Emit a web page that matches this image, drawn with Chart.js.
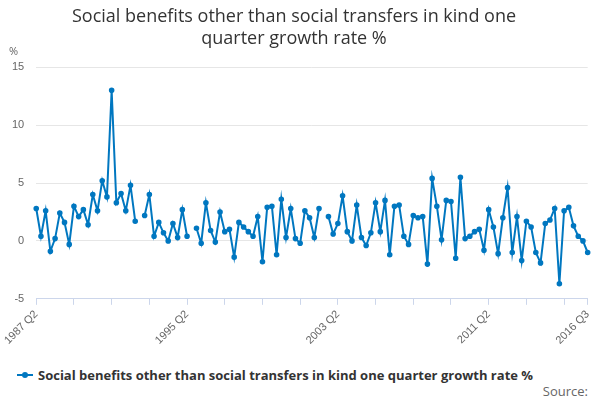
<!DOCTYPE html>
<html><head><meta charset="utf-8">
<script src="https://cdn.jsdelivr.net/npm/chart.js@4/dist/chart.umd.min.js"></script>
<style>
body{margin:0;width:600px;height:400px;overflow:hidden;background:#fff;font-family:"Open Sans",sans-serif;position:relative}
#wrap{position:absolute;left:0;top:0;width:600px;height:350px}
#leg{position:absolute;left:17px;top:366px;font-size:13px;font-weight:bold;color:#333;display:flex;align-items:center}
#leg .ln{display:inline-block;width:16px;height:2px;background:#0077c0;position:relative;margin-right:5px}
#leg .ln:after{content:"";position:absolute;left:5px;top:-2px;width:6px;height:6px;border-radius:3px;background:#0077c0}
#src{position:absolute;right:12px;top:382px;font-size:13px;color:#666}
</style></head><body>
<div id="wrap"><canvas id="c"></canvas></div>
<div id="leg"><span class="ln"></span>Social benefits other than social transfers in kind one quarter growth rate %</div>
<div id="src">Source:</div>
<script>
const values=[2.8,0.4,2.6,-0.9,0.2,2.4,1.6,-0.3,3.0,2.1,2.7,1.4,4.0,2.6,5.2,3.8,13.0,3.3,4.1,2.6,4.8,1.7,null,
2.2,4.0,0.4,1.6,0.7,0.0,1.5,0.3,2.7,0.4,null,1.1,-0.2,3.3,0.9,-0.1,2.5,0.8,1.0,-1.4,1.6,1.2,0.8,0.4,2.1,-1.8,2.9,3.0,-1.2,3.6,0.3,2.8,0.2,-0.2,2.6,2.0,0.3,2.8,null,
2.1,0.6,1.5,3.9,0.8,0.0,3.1,0.3,-0.4,0.7,3.3,0.8,3.5,-1.2,3.0,3.1,0.4,-0.3,2.2,2.0,2.1,-2.0,5.4,3.0,0.1,3.5,3.4,-1.5,5.5,0.2,0.4,0.8,1.0,-0.8,2.7,1.2,-1.1,2.0,4.6,-1.0,2.1,-1.7,1.7,1.2,-1.0,-1.9,1.5,1.8,2.8,-3.7,2.6,2.9,1.3,0.4,0.0,-1.0];
const categories=[];
for(let i=0;i<values.length;i++){const q=1+i;const y=1987+Math.floor(q/4);categories.push(y+' Q'+(q%4+1));}
const yTicks=[-5,0,5,10,15];
const last=values.length-1;
new Chart(document.getElementById('c'),{type:'line',
data:{labels:categories,datasets:[{label:'s',data:values,borderColor:'#0077c0',backgroundColor:'#0077c0',borderWidth:2,pointRadius:1.8,pointHoverRadius:1.8,tension:0,spanGaps:false}]},
options:{responsive:true,maintainAspectRatio:false,animation:false,
layout:{padding:{left:0,right:12,top:0,bottom:0}},
plugins:{legend:{display:false},tooltip:{enabled:false},
title:{display:true,text:['Social benefits other than social transfers in kind one','quarter growth rate %'],font:{size:18,family:'"Open Sans",sans-serif',weight:'500'},color:'#333',padding:{top:6,bottom:18},lineHeight:1.3}},
scales:{
x:{grid:{drawOnChartArea:false,drawTicks:true,tickLength:6,color:(c)=>(c.index%8===0||c.index===last)?'#ccd6eb':'rgba(0,0,0,0)'},border:{color:'#ccd6eb'},
 ticks:{autoSkip:false,maxRotation:45,minRotation:45,color:'#666',font:{size:11},callback:(v,i)=>(i%32===0||i===last)?categories[i]:''}},
y:{min:-5,max:15,afterBuildTicks:(s)=>{s.ticks=yTicks.map(v=>({value:v}));},grid:{color:'#e6e6e6',drawTicks:false},border:{display:false},
 title:{display:false},ticks:{color:'#666',font:{size:11},padding:12}}
}},
plugins:[{id:'pct',afterDraw(ch){const c=ch.ctx;c.save();c.fillStyle='#666';c.font='11px "Open Sans"';c.fillText('%',9,ch.scales.y.top-12);c.restore();}}]
});
</script></body></html>
